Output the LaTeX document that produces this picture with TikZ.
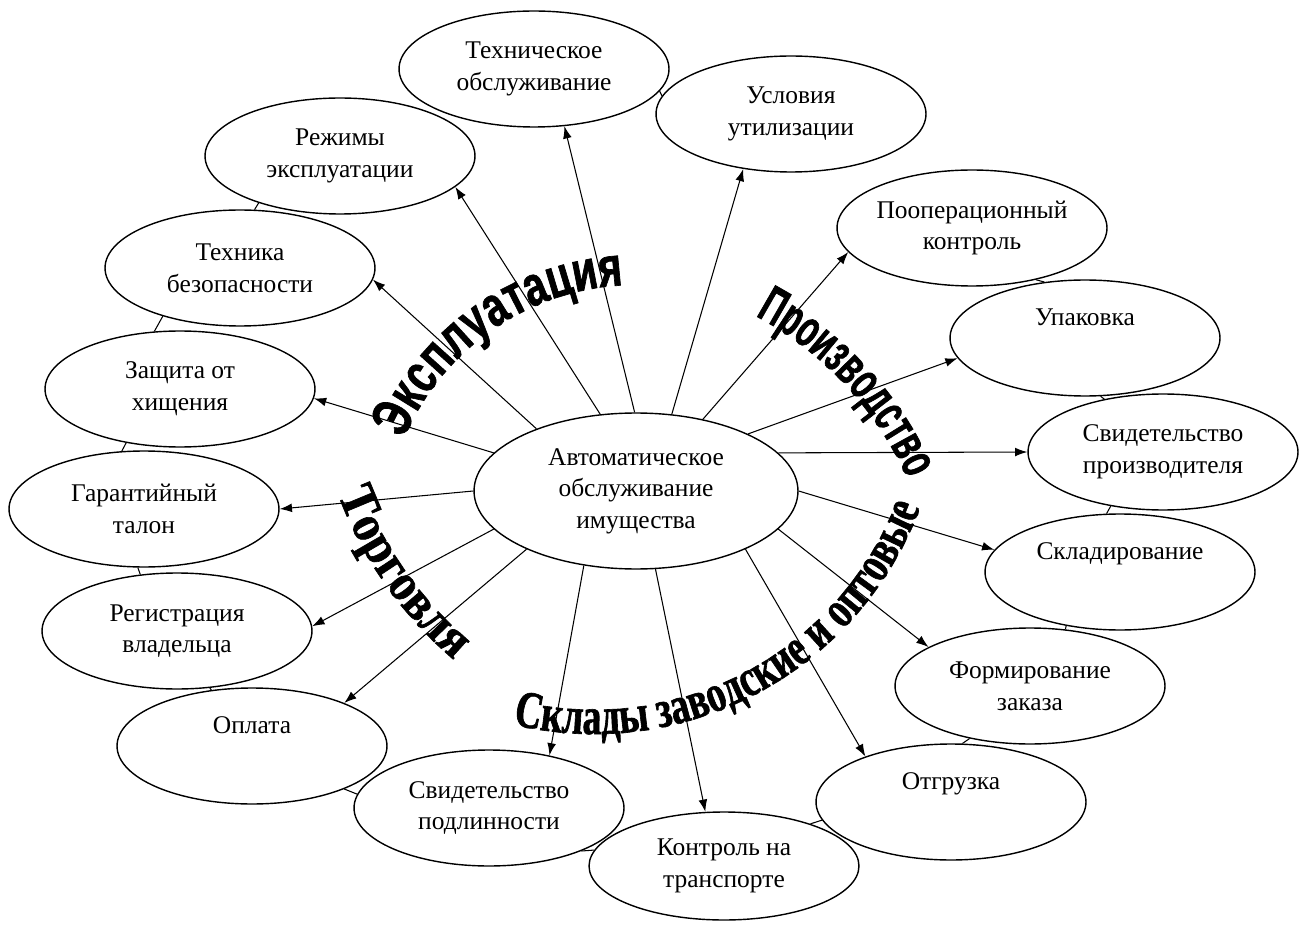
\documentclass[tikz,border=0pt]{standalone}
\usepackage{fontspec}
\setmainfont{Liberation Serif}
\newfontfamily\wordsans{Liberation Sans}[FakeStretch=0.72,FakeBold=1.2]
\newfontfamily\wordsanstight{Liberation Sans}[FakeStretch=0.6,FakeBold=1.2]
\newfontfamily\wordserif{Liberation Serif}[FakeStretch=0.9,FakeBold=1.2]
\newfontfamily\wordseriftight{Liberation Serif}[FakeStretch=0.72,FakeBold=1.2]
\usetikzlibrary{shapes.geometric,arrows.meta,decorations.text}
\tikzset{
  item/.style={draw,ellipse,line width=0.8pt,minimum width=5.4cm,minimum height=2.32cm,inner sep=0pt,align=center,font=\fontsize{14.5}{18}\selectfont},
  ring/.style={line width=0.6pt},
  arcword/.style={decorate,decoration={text along path,text align=center,text={#1}}}
}
\begin{document}
\begin{tikzpicture}[x=0.02cm,y=-0.02cm,>={Latex[length=7pt,width=5pt]}]
\useasboundingbox (0,0) rectangle (1307,925);
\node[item,minimum width=6.48cm,minimum height=3.12cm] (auto) at (636,491) {Автоматическое\\обслуживание\\имущества};
\node[item] (tech) at (534,69) {Техническое\\обслуживание};
\node[item] (util) at (791,114) {Условия\\утилизации};
\node[item] (rezh) at (340,156) {Режимы\\эксплуатации};
\node[item] (tb) at (240,268) {Техника\\безопасности};
\node[item] (zash) at (180,389) {Защита от\\хищения};
\node[item] (gar) at (144,509) {Гарантийный\\талон};
\node[item] (reg) at (177,631) {Регистрация\\владельца};
\node[item] (opl) at (252,746) {Оплата\\\strut};
\node[item] (svpodl) at (489,808) {Свидетельство\\подлинности};
\node[item,minimum height=2.16cm] (kontr) at (724,866) {Контроль на\\транспорте};
\node[item] (otgr) at (951,802) {Отгрузка\\\strut};
\node[item] (form) at (1030,686) {Формирование\\заказа};
\node[item] (sklad) at (1120,572) {Складирование\\\strut};
\node[item] (svpr) at (1163,452) {Свидетельство\\производителя};
\node[item] (upak) at (1085,338) {Упаковка\\\strut};
\node[item] (poop) at (972,228) {Пооперационный\\контроль};
\foreach \a/\n/\b in {91/tech/298,115/rezh/345,148/tb/355,165/zash/356,180/gar/0,195/reg/2,208/opl/25,235/svpodl/41,284/kontr/109,332/otgr/152,345/form/159,0/sklad/170,15/svpr/180,27/upak/189,47/poop/191,65/util/229}
  \draw[->,line width=0.6pt] (auto.\a) -- (\n.\b);
\foreach \p/\q in {rezh.210/tb.76,tb.212/zash.114,zash.225/gar.111,gar.264/reg.123,reg.300/opl.126,opl.335/svpodl.174,svpodl.335/kontr.173,kontr.26/otgr.188,otgr.79/form.221,form.58/sklad.225,sklad.103/svpr.226,svpr.138/upak.285,upak.126/poop.321,tech.350/util.172}
  \draw[ring] (\p) -- (\q);
\path[arcword={|\wordsans\bfseries\fontsize{32}{32}\selectfont|Эксплуатация}] (636,537) ++(195:252) arc[start angle=195,end angle=275,radius=252];
\path[arcword={|\wordsanstight\bfseries\fontsize{30}{30}\selectfont|Производство}] (595,618) ++(-66:342) arc[start angle=-66,end angle=-20,radius=342];
\path[arcword={|\wordserif\bfseries\fontsize{30}{30}\selectfont|Торговля}] (713,355) ++(168:400) arc[start angle=168,end angle=122,radius=400];
\path[arcword={|\wordseriftight\bfseries\fontsize{30}{30}\selectfont|Склады заводские и оптовые}] (594,386) ++(110:348) arc[start angle=110,end angle=14,radius=348];
\end{tikzpicture}
\end{document}
